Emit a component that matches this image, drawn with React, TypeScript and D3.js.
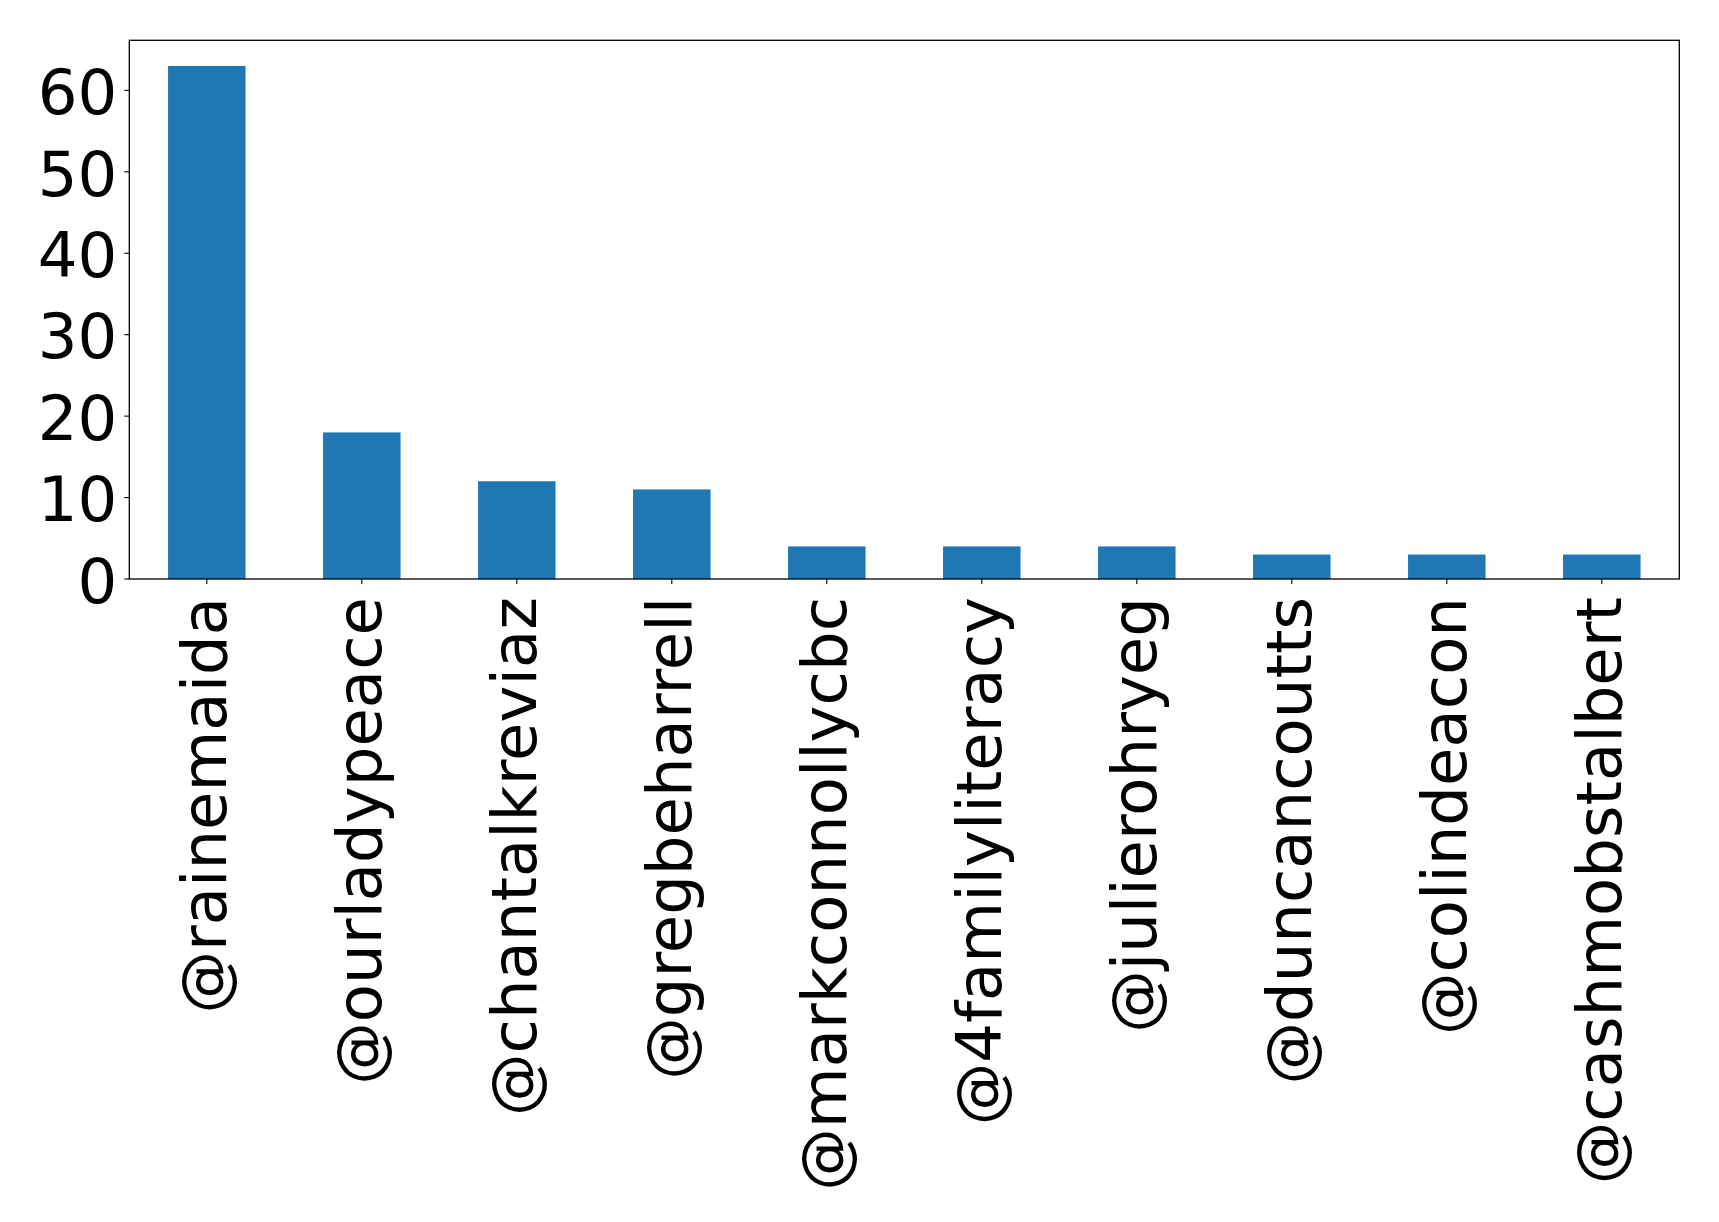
import * as d3 from 'd3';
import React, { ReactElement, useEffect, useRef } from 'react';

const WIDTH = 1719;
const HEIGHT = 1222;

const handles = [
  '@rainemaida',
  '@ourladypeace',
  '@chantalkreviaz',
  '@gregbeharrell',
  '@markconnollycbc',
  '@4familyliteracy',
  '@julierohryeg',
  '@duncancoutts',
  '@colindeacon',
  '@cashmobstalbert',
];
const counts = [63, 18, 12, 11, 4, 4, 4, 3, 3, 3];
const yTicks = [0, 10, 20, 30, 40, 50, 60];

const BAR_COLOR = '#1f77b4';
const FONT = '"DejaVu Sans", sans-serif';
const FONT_SIZE = '62.5px';

const App = (): ReactElement => {
  const svgRef = useRef(null);

  useEffect(() => {
    const left = 129.3;
    const right = 1679.3;
    const top = 40.3;
    const bottom = 579;

    const svg = d3.select(svgRef.current);
    svg.selectAll('*').remove();

    // pandas bar plot: xlim -0.5 .. n-0.5, bar width 0.5
    const x = d3
      .scaleLinear()
      .domain([-0.5, handles.length - 0.5])
      .range([left, right]);
    const yMax = d3.max(counts) * 1.05;
    const y = d3.scaleLinear().domain([0, yMax]).range([bottom, top]);

    svg
      .append('g')
      .selectAll('rect')
      .data(counts)
      .enter()
      .append('rect')
      .attr('x', (d, i) => x(i - 0.25))
      .attr('width', (d, i) => x(i + 0.25) - x(i - 0.25))
      .attr('y', (d) => y(d))
      .attr('height', (d) => y(0) - y(d))
      .attr('fill', BAR_COLOR);

    // frame
    svg
      .append('rect')
      .attr('x', left)
      .attr('y', top)
      .attr('width', right - left)
      .attr('height', bottom - top)
      .attr('fill', 'none')
      .attr('stroke', '#000')
      .attr('stroke-width', 1.3);

    // y ticks
    const yg = svg.append('g');
    yTicks.forEach((t) => {
      yg.append('line')
        .attr('x1', left - 5)
        .attr('x2', left)
        .attr('y1', y(t))
        .attr('y2', y(t))
        .attr('stroke', '#000')
        .attr('stroke-width', 1.1);
      yg.append('text')
        .attr('x', left - 12)
        .attr('y', y(t))
        .attr('dy', '0.38em')
        .attr('text-anchor', 'end')
        .attr('font-family', FONT)
        .attr('font-size', FONT_SIZE)
        .attr('fill', '#000')
        .text(t);
    });

    // x ticks and rotated labels
    const xg = svg.append('g');
    handles.forEach((h, i) => {
      const cx = x(i);
      xg.append('line')
        .attr('x1', cx)
        .attr('x2', cx)
        .attr('y1', bottom)
        .attr('y2', bottom + 5)
        .attr('stroke', '#000')
        .attr('stroke-width', 1.1);
      xg.append('text')
        .attr('transform', `translate(${cx}, ${bottom + 18}) rotate(-90)`)
        .attr('dy', '0.31em')
        .attr('text-anchor', 'end')
        .attr('font-family', FONT)
        .attr('font-size', FONT_SIZE)
        .attr('fill', '#000')
        .text(h);
    });
  }, []);

  return (
    <svg
      ref={svgRef}
      width={WIDTH}
      height={HEIGHT}
      style={{ position: 'absolute', left: 0, top: 0, background: '#fff' }}
    ></svg>
  );
};

export default App;
